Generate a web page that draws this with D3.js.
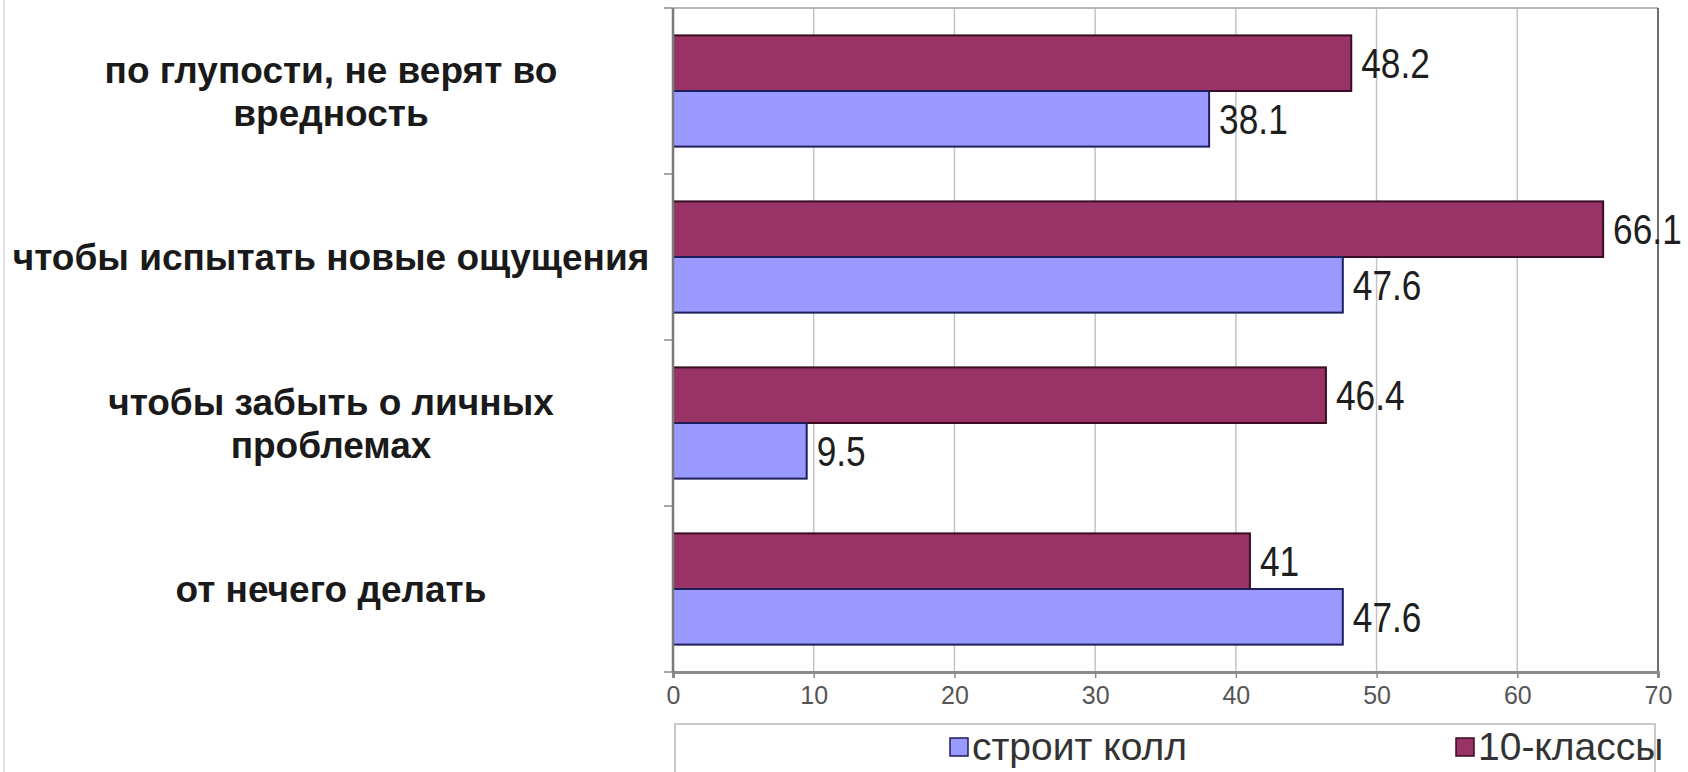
<!DOCTYPE html>
<html>
<head>
<meta charset="utf-8">
<script src="https://cdn.jsdelivr.net/npm/d3@7"></script>
<style>
  body { margin: 0; background: #fff; }
  svg { display: block; }
</style>
</head>
<body>
<script>
let categories = [
  "по глупости, не верят во\nвредность",
  "чтобы испытать новые ощущения",
  "чтобы забыть о личных\nпроблемах",
  "от нечего делать",
];
let seriesNames = ["строит колл", "10-классы"];
let stroitKoll = [38.1, 47.6, 9.5, 47.6];
let klassy10 = [48.2, 66.1, 46.4, 41];
let tickValues = [0, 10, 20, 30, 40, 50, 60, 70];

let w = 1688;
let h = 772;

let svg = d3.select("body").append("svg").attr("width", w).attr("height", h);

// page border on the left
svg.append("line")
  .attr("x1", 4).attr("x2", 4).attr("y1", 0).attr("y2", h)
  .attr("stroke", "#e2e2e2").attr("stroke-width", 2);

let x = d3.scaleLinear().domain([0, 70]).range([673, 1658]);
let y = d3.scaleBand().domain(d3.range(categories.length)).range([8, 672])
  .paddingInner(0.33).paddingOuter(0.165);
let step = y.step();
let ySub = d3.scaleBand().domain(["10-классы", "строит колл"]).range([0, y.bandwidth()]);

let colors = { "строит колл": "#9999ff", "10-классы": "#993366" };
let strokes = { "строит колл": "#1e1e5c", "10-классы": "#3a0d25" };

// grid
svg.selectAll(".grid")
  .data(tickValues.slice(1, -1))
  .enter()
  .append("line")
  .attr("x1", d => x(d)).attr("x2", d => x(d))
  .attr("y1", 8).attr("y2", 672)
  .attr("stroke", "#c4c4c4").attr("stroke-width", 1.5);

// frame: top + right
svg.append("line")
  .attr("x1", x(0)).attr("x2", x(70)).attr("y1", 8).attr("y2", 8)
  .attr("stroke", "#b8b8b8").attr("stroke-width", 2);
svg.append("line")
  .attr("x1", x(70)).attr("x2", x(70)).attr("y1", 8).attr("y2", 672)
  .attr("stroke", "#6e6e6e").attr("stroke-width", 2);

// bars
let rows = [];
categories.forEach(function (c, i) {
  rows.push({ i: i, s: "10-классы", v: klassy10[i] });
  rows.push({ i: i, s: "строит колл", v: stroitKoll[i] });
});

svg.selectAll("rect.bar")
  .data(rows)
  .enter()
  .append("rect")
  .attr("class", "bar")
  .attr("x", x(0))
  .attr("y", d => y(d.i) + ySub(d.s))
  .attr("width", d => x(d.v) - x(0))
  .attr("height", ySub.bandwidth())
  .attr("fill", d => colors[d.s])
  .attr("stroke", d => strokes[d.s])
  .attr("stroke-width", 2);

// value labels (narrow look: squeezed horizontally)
svg.selectAll("text.val")
  .data(rows)
  .enter()
  .append("text")
  .attr("class", "val")
  .text(d => String(d.v))
  .attr("transform", function (d) {
    let tx = x(d.v) + 10;
    let ty = y(d.i) + ySub(d.s) + ySub.bandwidth() / 2 + 15;
    return "translate(" + tx + "," + ty + ") scale(0.84,1)";
  })
  .attr("font-family", "'Liberation Sans', Arial, sans-serif")
  .attr("font-size", 42)
  .attr("fill", "#1e1e1e");

// x axis
let xAxis = d3.axisBottom(x).tickValues(tickValues).tickSize(6).tickPadding(8);
let gx = svg.append("g").attr("transform", "translate(0,672)").call(xAxis);
gx.select(".domain").attr("stroke", "#8a8a8a").attr("stroke-width", 3);
gx.selectAll(".tick line").attr("stroke", "#8a8a8a").attr("stroke-width", 1.5);
gx.selectAll(".tick text")
  .attr("font-family", "'Liberation Sans', Arial, sans-serif")
  .attr("font-size", 25)
  .attr("fill", "#555");

// y axis (category boundaries as ticks)
svg.append("line")
  .attr("x1", x(0)).attr("x2", x(0)).attr("y1", 8).attr("y2", 672)
  .attr("stroke", "#7a7a7a").attr("stroke-width", 2.5);
svg.selectAll(".ytick")
  .data(d3.range(categories.length + 1))
  .enter()
  .append("line")
  .attr("x1", x(0) - 9).attr("x2", x(0))
  .attr("y1", d => 8 + d * step).attr("y2", d => 8 + d * step)
  .attr("stroke", "#8a8a8a").attr("stroke-width", 1.5);

// category labels
let lab = svg.selectAll(".cat")
  .data(categories)
  .enter()
  .append("text")
  .attr("class", "cat")
  .attr("text-anchor", "middle")
  .attr("font-family", "'Liberation Sans', Arial, sans-serif")
  .attr("font-weight", "bold")
  .attr("font-size", 37)
  .attr("fill", "#1a1a1a");

lab.each(function (d, i) {
  let lines = d.split("\n");
  let cy = y(i) + y.bandwidth() / 2;
  let lh = 43;
  d3.select(this).selectAll("tspan")
    .data(lines)
    .enter()
    .append("tspan")
    .attr("x", 331)
    .attr("y", (l, j) => cy - (lines.length - 1) * lh / 2 + j * lh + 13)
    .text(l => l);
});

// legend
svg.append("rect")
  .attr("x", 675).attr("y", 724).attr("width", 980).attr("height", 60)
  .attr("fill", "#fff").attr("stroke", "#c8c8c8").attr("stroke-width", 2);

let legendX = [950, 1456];
let leg = svg.selectAll(".leg")
  .data(seriesNames)
  .enter()
  .append("g")
  .attr("transform", (d, i) => "translate(" + legendX[i] + ",738)");
leg.append("rect")
  .attr("width", 18).attr("height", 18)
  .attr("fill", d => colors[d])
  .attr("stroke", d => strokes[d]).attr("stroke-width", 1.5);
leg.append("text")
  .text(d => d)
  .attr("x", 22).attr("y", 22)
  .attr("font-family", "'Liberation Sans', Arial, sans-serif")
  .attr("font-size", 39)
  .attr("fill", "#333");
</script>
</body>
</html>
